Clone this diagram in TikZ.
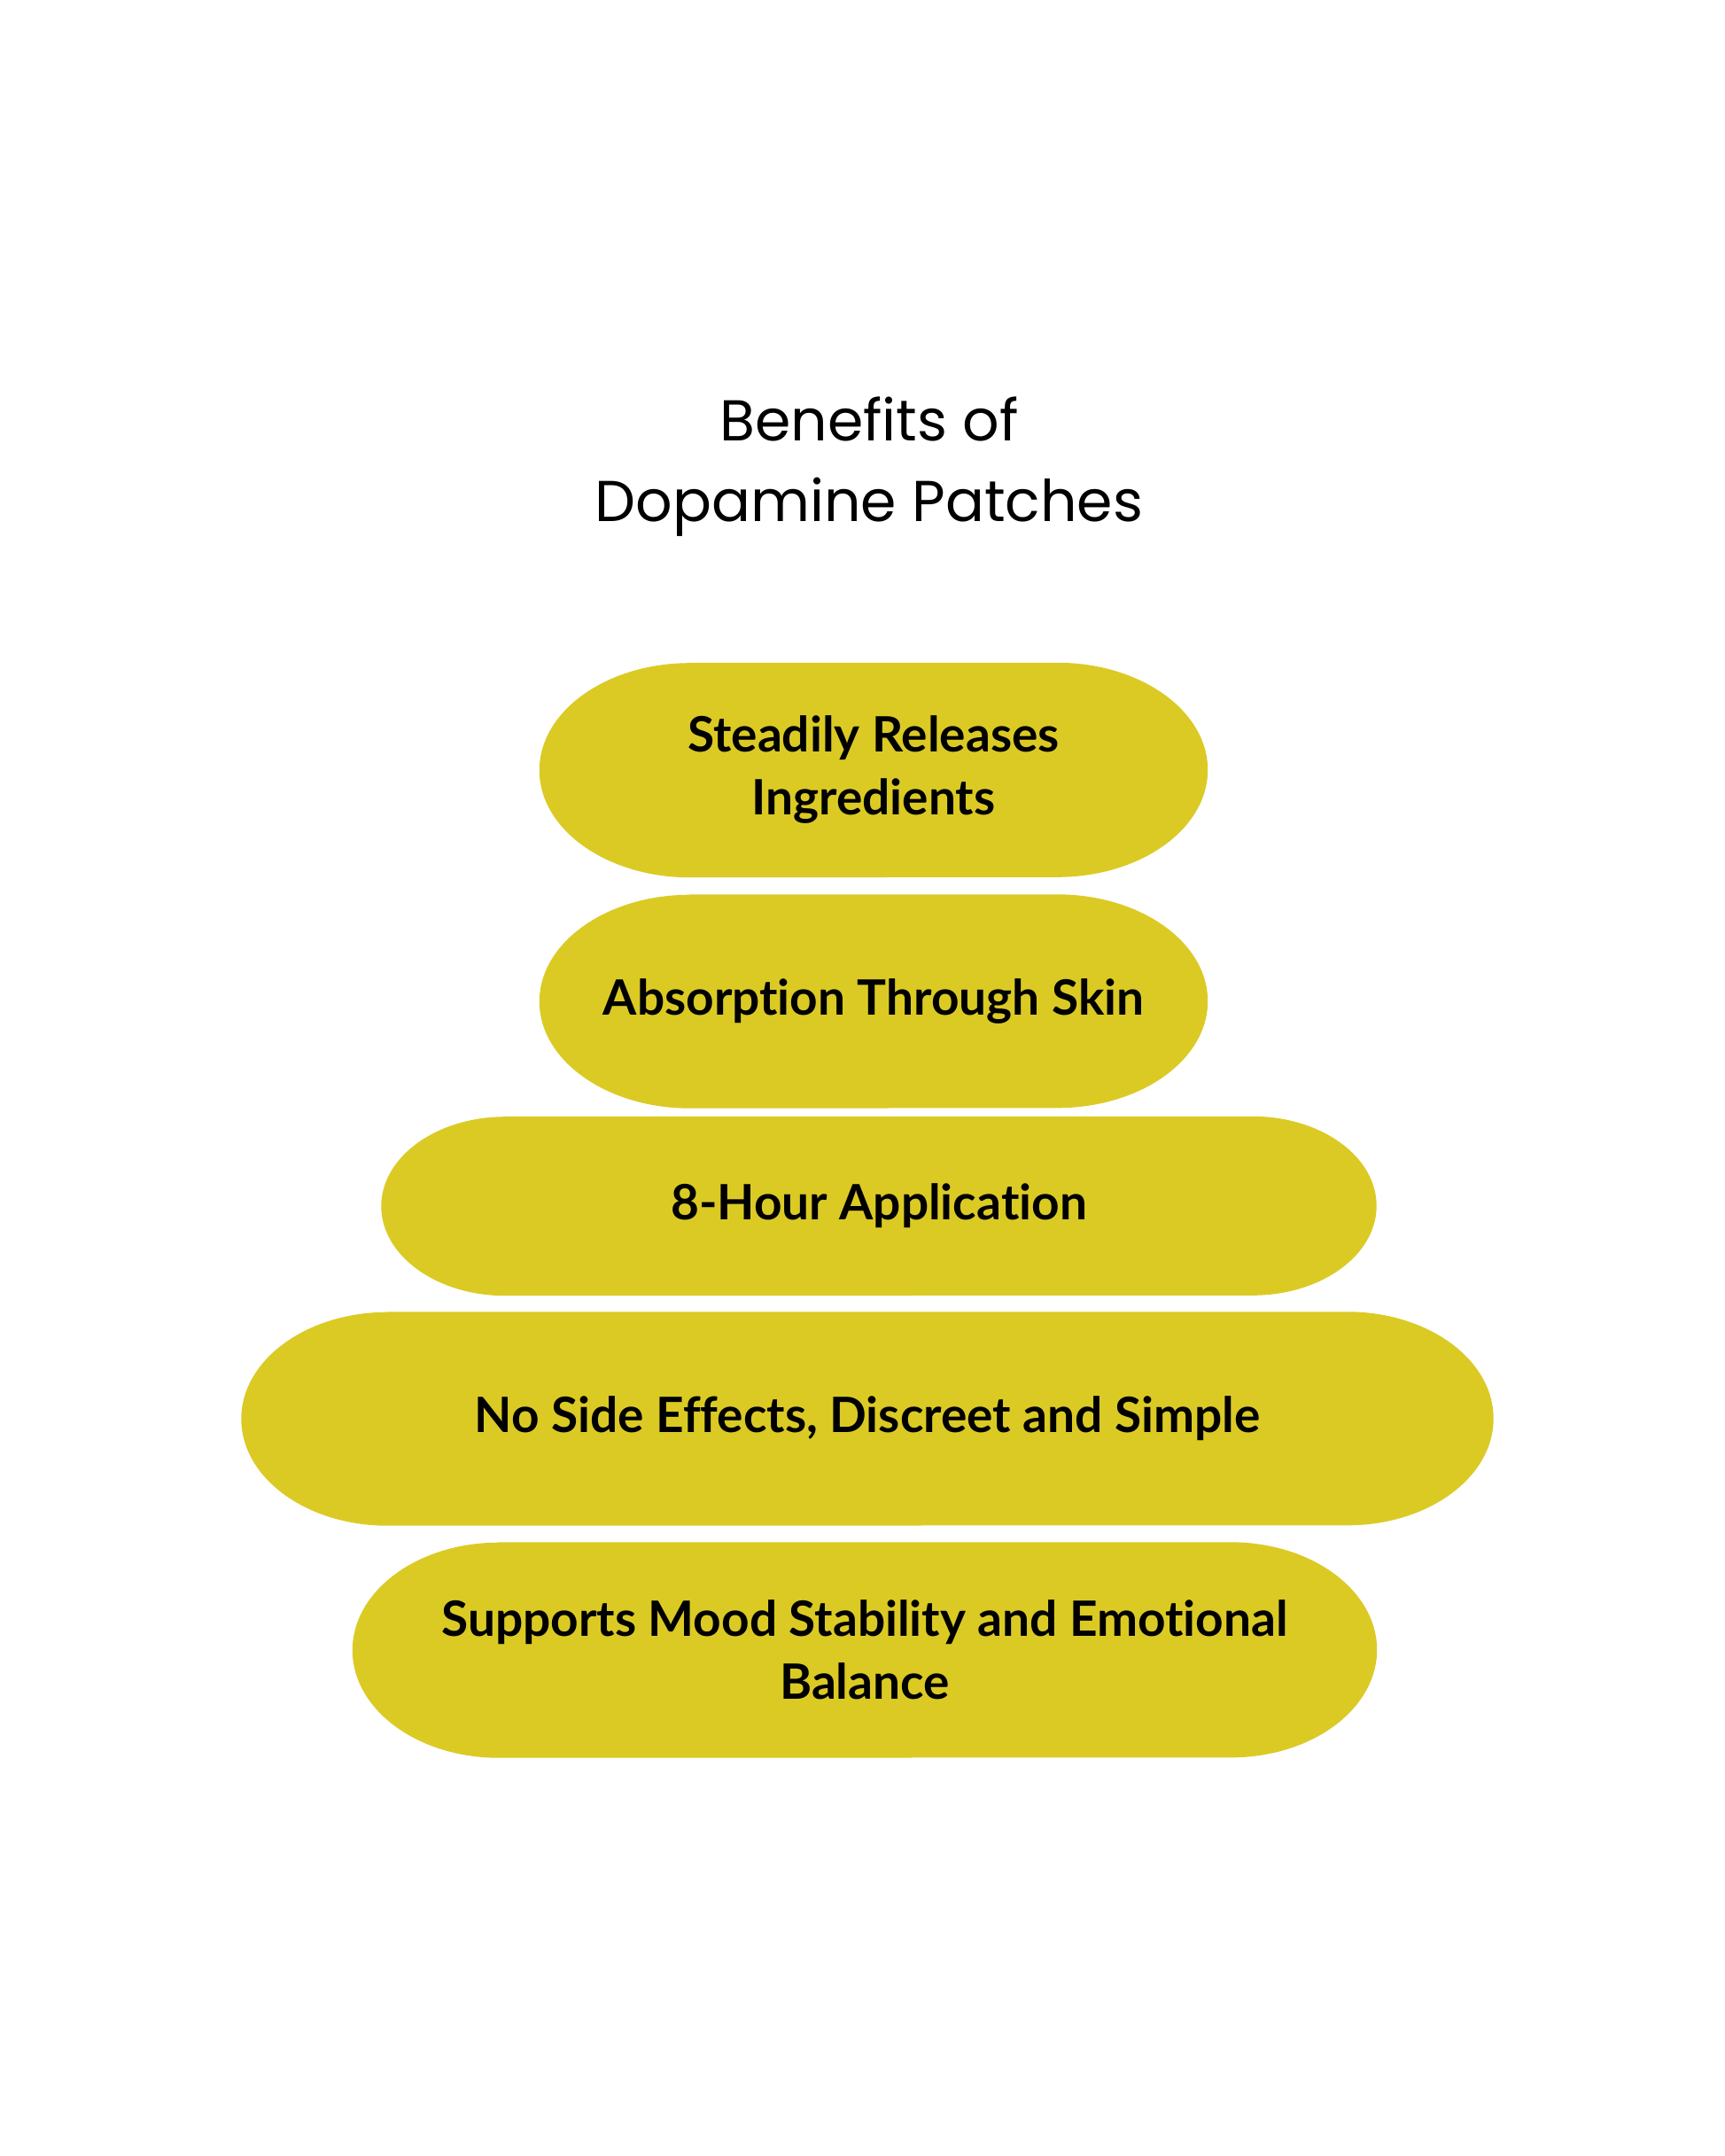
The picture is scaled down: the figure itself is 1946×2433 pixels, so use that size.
\documentclass[tikz,border=0pt]{standalone}
\usepackage{fontspec}
\setmainfont{Lato}[Ligatures=NoCommon]
\newfontfamily\titlefont{Poppins}
\usetikzlibrary{backgrounds}

\definecolor{patchyellow}{RGB}{219,202,36}

\tikzset{
    pilltext/.style={inner sep=0pt, align=center, font=\bfseries\fontsize{55}{71}\selectfont},
    pillfill/.style={fill=patchyellow}
}

% pill: node name, end x radius, end y radius
\newcommand{\pill}[3]{%
    \fill[pillfill] ([xshift=#2]#1.north west) -- ([xshift=-#2]#1.north east)
        arc[start angle=90, end angle=-90, x radius=#2, y radius=#3]
        -- ([xshift=#2]#1.south west)
        arc[start angle=270, end angle=90, x radius=#2, y radius=#3] -- cycle;}

\begin{document}
\begin{tikzpicture}[x=1pt, y=1pt]
    \useasboundingbox (0,0) rectangle (1946,-2433);

    \node[align=center, font=\titlefont\fontsize{65}{91}\selectfont] (title) at (981,-527) {Benefits of\\Dopamine Patches};

    \node[pilltext, minimum width=754pt, minimum height=242pt] (b1) at (986,-869) {Steadily Releases\\Ingredients};
    \node[pilltext, minimum width=754pt, minimum height=241pt] (b2) at (986,-1130) {Absorption Through Skin};
    \node[pilltext, minimum width=1123pt, minimum height=202pt] (b3) at (992,-1361) {8-Hour Application};
    \node[pilltext, minimum width=1413pt, minimum height=241pt] (b4) at (979,-1601) {No Side Effects, Discreet and Simple};
    \node[pilltext, minimum width=1156pt, minimum height=243pt] (b5) at (976,-1862) {Supports Mood Stability and Emotional\\Balance};

    \begin{scope}[on background layer]
        \fill[white] (0,0) rectangle (1946,-2433);
        \pill{b1}{170pt}{121pt}
        \pill{b2}{170pt}{120.5pt}
        \pill{b3}{140pt}{101pt}
        \pill{b4}{165pt}{120.5pt}
        \pill{b5}{165pt}{121.5pt}
    \end{scope}
\end{tikzpicture}
\end{document}
